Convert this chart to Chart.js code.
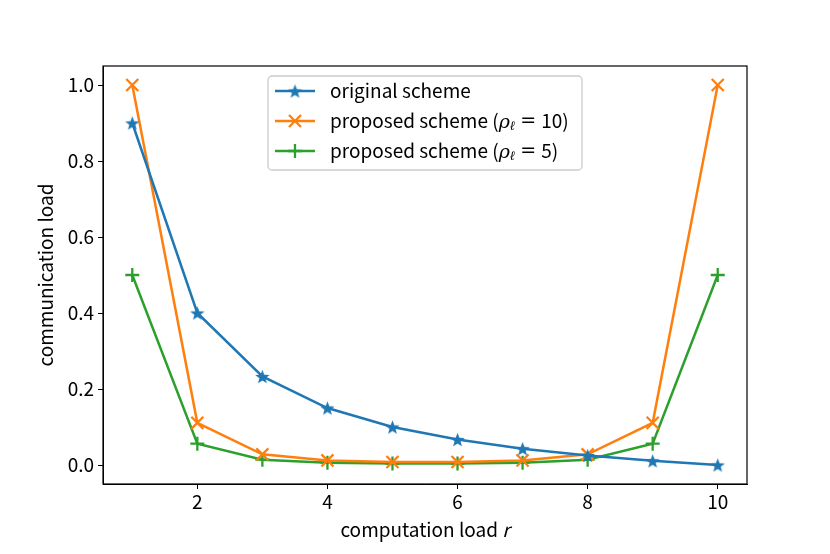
<!DOCTYPE html>
<html>
<head>
<meta charset="utf-8">
<script src="https://cdn.jsdelivr.net/npm/chart.js@4"></script>
<style>
  html, body { margin: 0; padding: 0; background: #fff; }
  #wrap { width: 830px; height: 554px; }
</style>
</head>
<body>
<div id="wrap"><canvas id="c" width="830" height="554"></canvas></div>
<script>
const r = [1, 2, 3, 4, 5, 6, 7, 8, 9, 10];
const original = [0.9, 0.4, 0.233, 0.15, 0.1, 0.067, 0.043, 0.025, 0.011, 0.0];
const proposed10 = [1.0, 0.111, 0.028, 0.012, 0.008, 0.008, 0.012, 0.028, 0.111, 1.0];
const proposed5 = [0.5, 0.056, 0.014, 0.006, 0.004, 0.004, 0.006, 0.014, 0.056, 0.5];
const xTicks = [2, 4, 6, 8, 10];
const yTicks = [0.0, 0.2, 0.4, 0.6, 0.8, 1.0];

const FONT = '"Noto Sans CJK JP", "DejaVu Sans", sans-serif';
const FS = 19;
const blue = '#1f77b4', orange = '#ff7f0e', green = '#2ca02c';

// matplotlib-like filled star marker
function starMarker(color, size) {
    const c = document.createElement('canvas');
    c.width = size; c.height = size;
    const g = c.getContext('2d');
    const cx = size / 2, cy = size / 2 + 0.8, R = size / 2, ri = R * 0.42;
    g.beginPath();
    for (let i = 0; i < 10; i++) {
        const a = -Math.PI / 2 + i * Math.PI / 5;
        const rr = i % 2 === 0 ? R : ri;
        const px = cx + rr * Math.cos(a), py = cy + rr * Math.sin(a);
        if (i === 0) g.moveTo(px, py); else g.lineTo(px, py);
    }
    g.closePath();
    g.fillStyle = color;
    g.fill();
    return c;
}
const star = starMarker(blue, 15);

const toXY = ys => r.map((x, i) => ({ x: x, y: ys[i] }));

const legendItems = [
    { color: blue, marker: 'star', parts: [['original scheme', 'n']] },
    { color: orange, marker: 'x', parts: [['proposed scheme (', 'n'], ['ρ', 'i'], ['ℓ', 's'], ['=', 'eq'], ['10)', 'n']] },
    { color: green, marker: '+', parts: [['proposed scheme (', 'n'], ['ρ', 'i'], ['ℓ', 's'], ['=', 'eq'], ['5)', 'n']] }
];

function drawMarker(ctx, type, x, y, color) {
    ctx.save();
    ctx.strokeStyle = color;
    ctx.lineWidth = 2.3;
    if (type === 'star') {
        ctx.drawImage(star, x - 7.5, y - 7.5);
    } else if (type === 'x') {
        ctx.beginPath();
        ctx.moveTo(x - 6, y - 6); ctx.lineTo(x + 6, y + 6);
        ctx.moveTo(x - 6, y + 6); ctx.lineTo(x + 6, y - 6);
        ctx.stroke();
    } else {
        ctx.beginPath();
        ctx.moveTo(x - 7, y); ctx.lineTo(x + 7, y);
        ctx.moveTo(x, y - 7); ctx.lineTo(x, y + 7);
        ctx.stroke();
    }
    ctx.restore();
}

const decor = {
    id: 'decor',
    afterDatasetsDraw(chart) {
        const ctx = chart.ctx, a = chart.chartArea;
        ctx.save();
        // frame
        ctx.strokeStyle = '#000';
        ctx.lineWidth = 1.2;
        ctx.strokeRect(a.left, a.top, a.right - a.left, a.bottom - a.top);

        // axis titles
        ctx.fillStyle = '#000';
        ctx.textBaseline = 'middle';
        const t1 = 'computation load ';
        ctx.font = FS + 'px ' + FONT;
        const w1 = ctx.measureText(t1).width;
        ctx.font = 'italic ' + FS + 'px ' + FONT;
        const w2 = ctx.measureText('r').width;
        let sx = (a.left + a.right) / 2 - (w1 + w2) / 2;
        ctx.textAlign = 'left';
        ctx.font = FS + 'px ' + FONT;
        ctx.fillText(t1, sx, 530);
        ctx.font = 'italic ' + FS + 'px ' + FONT;
        ctx.fillText('r', sx + w1, 530);

        ctx.save();
        ctx.translate(46, (a.top + a.bottom) / 2);
        ctx.rotate(-Math.PI / 2);
        ctx.textAlign = 'center';
        ctx.font = FS + 'px ' + FONT;
        ctx.fillText('communication load', 0, 0);
        ctx.restore();

        // legend
        const bx = 268, by = 76, bw = 314, bh = 94;
        ctx.fillStyle = 'rgba(255,255,255,0.8)';
        ctx.strokeStyle = '#cccccc';
        ctx.lineWidth = 1.3;
        ctx.beginPath();
        ctx.roundRect(bx, by, bw, bh, 4);
        ctx.fill();
        ctx.stroke();
        legendItems.forEach((it, i) => {
            const y = 91 + i * 30;
            ctx.strokeStyle = it.color;
            ctx.lineWidth = 2.5;
            ctx.beginPath();
            ctx.moveTo(275, y); ctx.lineTo(315, y);
            ctx.stroke();
            drawMarker(ctx, it.marker, 295, y, it.color);
            let tx = 330;
            ctx.fillStyle = '#000';
            ctx.textAlign = 'left';
            ctx.textBaseline = 'middle';
            it.parts.forEach(([s, st]) => {
                if (st === 'n') {
                    ctx.font = FS + 'px ' + FONT;
                    ctx.fillText(s, tx, y);
                    tx += ctx.measureText(s).width;
                } else if (st === 'i') {
                    ctx.font = 'italic ' + FS + 'px "DejaVu Serif", serif';
                    ctx.fillText(s, tx, y + 2);
                    tx += ctx.measureText(s).width;
                } else if (st === 's') {
                    ctx.font = 'italic 13px "DejaVu Serif", serif';
                    ctx.fillText(s, tx, y + 6);
                    tx += ctx.measureText(s).width;
                } else {
                    ctx.font = FS + 'px "DejaVu Sans", sans-serif';
                    tx += 5;
                    ctx.fillText(s, tx, y);
                    tx += ctx.measureText(s).width + 5;
                }
            });
        });
        ctx.restore();
    }
};

new Chart(document.getElementById('c'), {
    type: 'line',
    data: {
        datasets: [{
            label: 'original scheme',
            data: toXY(original),
            borderColor: blue,
            backgroundColor: blue,
            borderWidth: 2.5,
            pointStyle: star,
            tension: 0
        }, {
            label: 'proposed scheme (ρℓ = 10)',
            data: toXY(proposed10),
            borderColor: orange,
            backgroundColor: orange,
            borderWidth: 2.5,
            pointStyle: 'crossRot',
            pointRadius: 8.5,
            pointBorderWidth: 2.3,
            tension: 0
        }, {
            label: 'proposed scheme (ρℓ = 5)',
            data: toXY(proposed5),
            borderColor: green,
            backgroundColor: green,
            borderWidth: 2.5,
            pointStyle: 'cross',
            pointRadius: 7,
            pointBorderWidth: 2.3,
            tension: 0
        }]
    },
    options: {
        responsive: false,
        animation: false,
        layout: { padding: { top: 66, right: 83, left: 0, bottom: 0 } },
        plugins: { legend: { display: false }, tooltip: { enabled: false } },
        scales: {
            x: {
                type: 'linear',
                min: 0.55,
                max: 10.45,
                afterBuildTicks: s => { s.ticks = xTicks.map(v => ({ value: v })); },
                afterFit: s => { s.height = 70; },
                grid: { drawOnChartArea: false, drawTicks: true, tickLength: 5, color: '#000' },
                border: { display: true, color: '#000' },
                ticks: { color: '#000', font: { family: FONT, size: FS }, padding: 1, maxRotation: 0 }
            },
            y: {
                min: -0.05,
                max: 1.05,
                afterBuildTicks: s => { s.ticks = yTicks.map(v => ({ value: v })); },
                afterFit: s => { s.width = 103; },
                grid: { drawOnChartArea: false, drawTicks: true, tickLength: 5, color: '#000' },
                border: { display: true, color: '#000' },
                ticks: { color: '#000', font: { family: FONT, size: FS }, padding: 4,
                         callback: v => v.toFixed(1) }
            }
        }
    },
    plugins: [decor]
});
</script>
</body>
</html>
